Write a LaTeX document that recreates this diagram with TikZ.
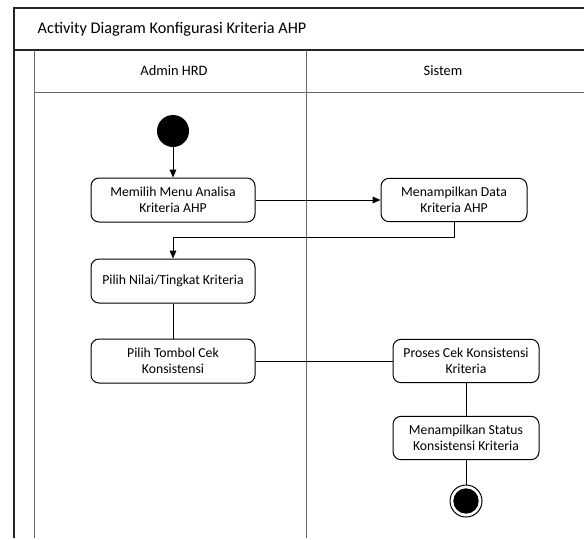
\documentclass[tikz,border=0pt]{standalone}
\usepackage{fontspec}
\setmainfont{Carlito}
\usetikzlibrary{
  arrows.meta,
  positioning
}
\definecolor{FrameDark}{RGB}{35,35,35}
\definecolor{LaneGray}{RGB}{105,105,105}
\definecolor{InkBlack}{RGB}{0,0,0}
\tikzset{
  actnode/.style={draw=InkBlack,fill=white,rounded corners=6pt,minimum height=33pt,minimum width=123pt,align=center,inner sep=2pt,line width=0.75pt,font=\fontsize{10.3}{12}\selectfont},
  sysnode/.style={actnode,minimum width=109.5pt,minimum height=32.5pt},
  startnode/.style={circle,fill=InkBlack,minimum size=24pt,inner sep=0pt},
  endnode/.style={circle,draw=InkBlack,fill=white,line width=0.75pt,minimum size=24pt,inner sep=0pt,path picture={\fill[InkBlack] (path picture bounding box.center) circle (9.5pt);}},
  flowarrow/.style={-{Triangle[length=6pt,width=5pt]},line width=0.75pt,draw=InkBlack},
  flowline/.style={line width=0.75pt,draw=InkBlack},
  outerline/.style={line width=1pt,draw=FrameDark},
  laneline/.style={line width=0.75pt,draw=LaneGray},
  frametitle/.style={font=\fontsize{12.2}{14}\selectfont},
  lanetitle/.style={font=\fontsize{10.8}{13}\selectfont}
}

\begin{document}
\begin{tikzpicture}[x=0.75pt,y=-0.75pt]
\useasboundingbox (0,0) rectangle (584,539);

% frame and swimlanes
\draw[outerline] (14,538) -- (14,8) -- (584,8);
\draw[outerline] (14,50) -- (584,50);
\draw[laneline] (34,538) -- (34,50);
\draw[laneline] (306,538) -- (306,50);
\draw[laneline] (34,92) -- (584,92);
\node[frametitle,anchor=west] (title) at (33,29) {Activity Diagram Konfigurasi Kriteria AHP};
\node[lanetitle] (admin) at (174,71) {Admin HRD};
\node[lanetitle] (sistem) at (443,71) {Sistem};

% activities
\node[startnode] (start) at (173,131) {};
\node[actnode] (menu) at (173,200) {Memilih Menu Analisa\\Kriteria AHP};
\node[sysnode] (data) at (454,200) {Menampilkan Data\\Kriteria AHP};
\node[actnode] (nilai) at (173,281) {Pilih Nilai/Tingkat Kriteria};
\node[actnode] (tombol) at (173,361) {Pilih Tombol Cek\\Konsistensi};
\node[sysnode] (proses) at (466,361) {Proses Cek Konsistensi\\Kriteria};
\node[sysnode] (status) at (466,438) {Menampilkan Status\\Konsistensi Kriteria};
\node[endnode] (finish) at (466,501) {};
\coordinate (turn) at (173,237);

% flows
\draw[flowarrow] (start) -- (menu);
\draw[flowarrow] (menu) -- (data);
\draw[flowarrow] (data.south) |- (turn) -- (nilai.north);
\draw[flowline] (nilai) -- (tombol);
\draw[flowline] (tombol) -- (proses);
\draw[flowline] (proses) -- (status);
\draw[flowline] (status) -- (finish);
\end{tikzpicture}
\end{document}
